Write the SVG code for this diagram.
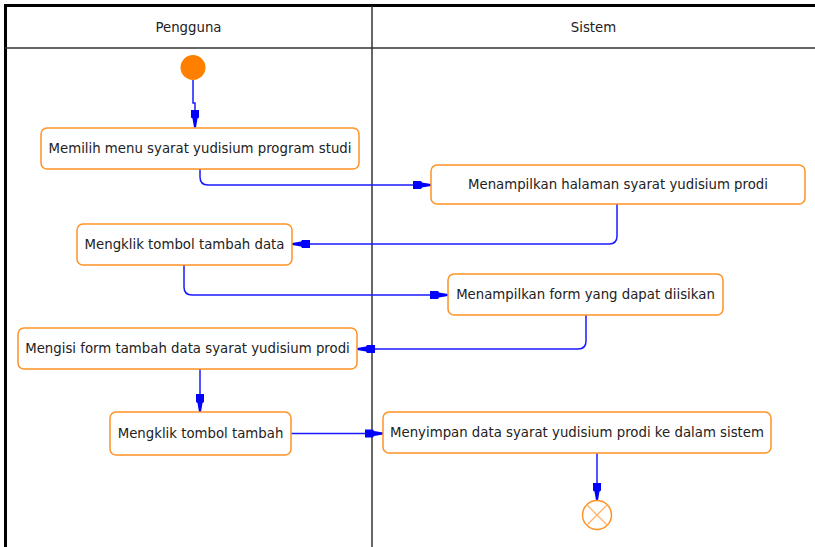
<svg xmlns="http://www.w3.org/2000/svg" width="815" height="547" viewBox="0 0 815 547">
<style>
  .frame{stroke:#000;stroke-width:3;fill:none}
  .lane{stroke:#333;stroke-width:1.5;fill:none}
  .node rect{fill:#fff;stroke:#FF9326;stroke-width:1.5}
  .lbl{font-family:"DejaVu Sans",Verdana,sans-serif;font-size:13.3px;fill:#222;text-anchor:middle}
  .conn path{fill:none;stroke:#1a1aff;stroke-width:1.5;marker-end:url(#arr)}
</style>
<defs>
  <marker id="arr" markerUnits="userSpaceOnUse" viewBox="0 -5 18 10" refX="18" refY="0" markerWidth="18" markerHeight="10" orient="auto">
    <polygon points="0,-4 8,-4 9,-2.5 18,-1 18,1 9,2.5 8,4 0,4" fill="#0000ff"/>
  </marker>
</defs>
<rect width="815" height="547" fill="#fff"/>
<g id="lanes">
  <line class="frame" x1="4" y1="5.5" x2="815" y2="5.5"/>
  <line class="frame" x1="5.5" y1="4" x2="5.5" y2="547"/>
  <line class="lane" x1="5" y1="48" x2="815" y2="48"/>
  <line class="lane" x1="372" y1="6" x2="372" y2="547"/>
  <text class="lbl" x="188.5" y="32">Pengguna</text>
  <text class="lbl" x="593.5" y="32">Sistem</text>
</g>
<g id="connectors" class="conn">
  <path d="M193,80 V103 H195 V127.5"/>
  <path d="M200,169 V177 Q200,185 208,185 H431"/>
  <path d="M617,204 V236 Q617,244 609,244 H292"/>
  <path d="M184,265 V287 Q184,295 192,295 H448"/>
  <path d="M586,315 V341 Q586,349 578,349 H357"/>
  <path d="M200,369 V412"/>
  <path d="M291,433.5 H383"/>
  <path d="M597,453 V500.5"/>
</g>
<g id="start"><circle cx="193" cy="67.5" r="12.5" fill="#FF8000"/></g>
<g id="n1" class="node"><rect x="41" y="128" width="318" height="41" rx="6"/><text class="lbl" x="200" y="153">Memilih menu syarat yudisium program studi</text></g>
<g id="n2" class="node"><rect x="431" y="165" width="374" height="39" rx="6"/><text class="lbl" x="618" y="189">Menampilkan halaman syarat yudisium prodi</text></g>
<g id="n3" class="node"><rect x="77" y="224" width="215" height="41" rx="6"/><text class="lbl" x="184.5" y="249">Mengklik tombol tambah data</text></g>
<g id="n4" class="node"><rect x="448" y="274" width="275" height="41" rx="6"/><text class="lbl" x="585.5" y="299">Menampilkan form yang dapat diisikan</text></g>
<g id="n5" class="node"><rect x="18" y="328" width="339" height="41" rx="6"/><text class="lbl" x="187.5" y="353">Mengisi form tambah data syarat yudisium prodi</text></g>
<g id="n6" class="node"><rect x="110" y="412" width="181" height="43" rx="6"/><text class="lbl" x="200.5" y="438">Mengklik tombol tambah</text></g>
<g id="n7" class="node"><rect x="383" y="412" width="388" height="41" rx="6"/><text class="lbl" x="577" y="437">Menyimpan data syarat yudisium prodi ke dalam sistem</text></g>
<g id="end">
  <circle cx="597" cy="515" r="14.5" fill="#fff" stroke="#FF9326" stroke-width="1.5"/>
  <path d="M586.7,504.7 L607.3,525.3 M607.3,504.7 L586.7,525.3" stroke="#FFB366" stroke-width="1.3"/>
</g>
</svg>
